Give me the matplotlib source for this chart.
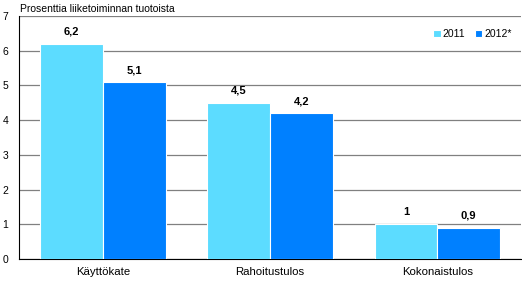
import numpy as np
import matplotlib
matplotlib.use("Agg")
import matplotlib.pyplot as plt

plt.rcParams['font.family'] = ['Liberation Sans', 'DejaVu Sans']

# data
categories = ["Käyttökate", "Rahoitustulos", "Kokonaistulos"]
series_names = ["2011", "2012*"]
values_2011 = [6.2, 4.5, 1.0]
values_2012 = [5.1, 4.2, 0.9]
value_labels_2011 = ["6,2", "4,5", "1"]
value_labels_2012 = ["5,1", "4,2", "0,9"]
y_ticks = [0, 1, 2, 3, 4, 5, 6, 7]

COLORS = ["#5CDCFF", "#0080FF"]
BAR_W = 0.375

fig = plt.figure(figsize=(5.22, 2.81), dpi=100)
ax = fig.add_axes([0.037, 0.078, 0.961, 0.865])

x = np.arange(len(categories))
b1 = ax.bar(x - BAR_W / 2, values_2011, BAR_W, color=COLORS[0], edgecolor="white",
            linewidth=0.8, label=series_names[0], zorder=3)
b2 = ax.bar(x + BAR_W / 2, values_2012, BAR_W, color=COLORS[1], edgecolor="white",
            linewidth=0.8, label=series_names[1], zorder=3)

for bars, labels in ((b1, value_labels_2011), (b2, value_labels_2012)):
    for rect, lab in zip(bars, labels):
        ax.text(rect.get_x() + rect.get_width() / 2, rect.get_height() + 0.2, lab,
                ha="center", va="bottom", fontsize=8, fontweight="bold", zorder=4)

ax.set_xlim(-0.5, len(categories) - 0.5)
ax.set_ylim(0, 7)
ax.set_yticks(y_ticks)
ax.set_xticks(x)
ax.set_xticklabels(categories)
ax.tick_params(axis="both", length=0, labelsize=7.5)
ax.tick_params(axis="x", labelsize=8.2, pad=6)
ax.tick_params(axis="y", pad=8)
ax.yaxis.grid(True, color="#808080", linewidth=0.9, zorder=0)
ax.set_axisbelow(True)
for s in ("top", "right"):
    ax.spines[s].set_visible(False)
ax.spines["left"].set_color("black")
ax.spines["bottom"].set_color("black")

ax.text(0.038, 0.985, "Prosenttia liiketoiminnan tuotoista", transform=fig.transFigure,
        ha="left", va="top", fontsize=7.5)

ax.legend(loc="upper right", bbox_to_anchor=(1.0, 0.985), ncol=2, frameon=False,
          fontsize=7.5, handlelength=0.7, handleheight=0.7, handletextpad=0.2,
          columnspacing=0.9)

fig.savefig("out.png", dpi=100)
